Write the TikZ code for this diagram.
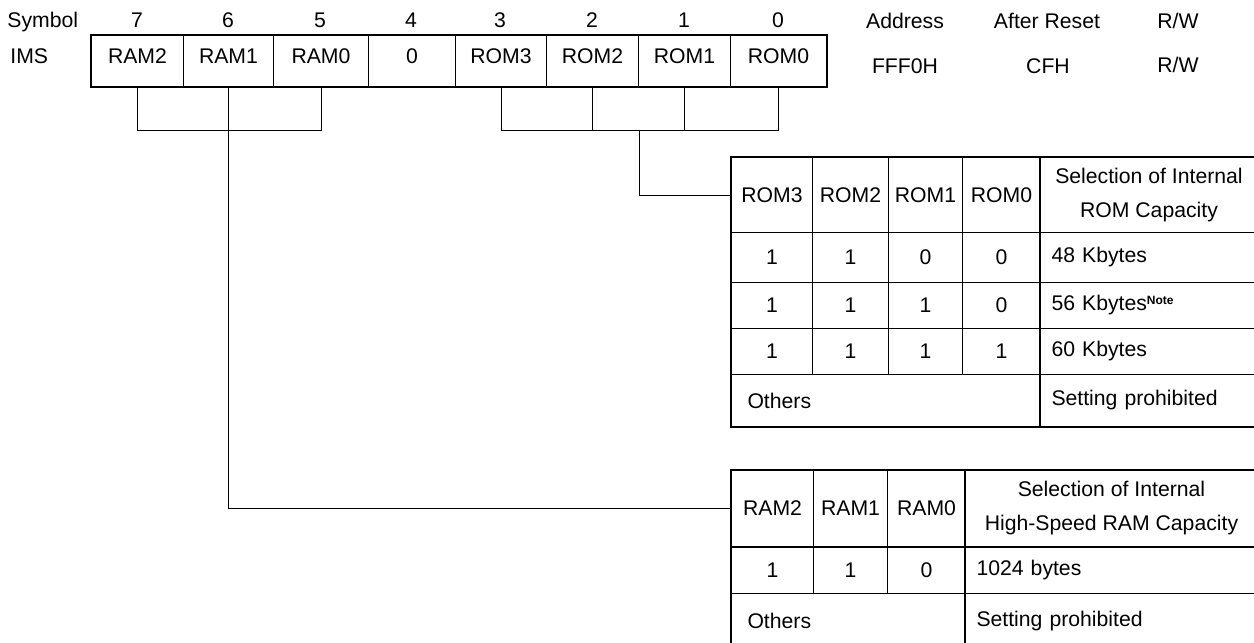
\documentclass[tikz,border=0pt]{standalone}
\usepackage{fontspec}
\setmainfont{Liberation Sans}
\usepackage{tikz}
\usetikzlibrary{calc}
\tikzset{
  every node/.style={font=\fontsize{10.6}{17}\selectfont},
  cell/.style 2 args={draw,line width=0.5pt,anchor=north west,inner sep=0pt,
    minimum width=#1*0.5pt,minimum height=#2*0.5pt},
  regcell/.style={cell={#1}{51},text depth=5pt},
  desc/.style={align=left,text width=#1,inner xsep=5.5pt},
  hdr/.style={anchor=base,inner sep=0pt},
  thickline/.style={line width=1.1pt},
  conn/.style={line width=0.5pt},
}

\begin{document}
\begin{tikzpicture}[x=0.5pt,y=-0.5pt]
        \useasboundingbox (0,0) rectangle (1254,643);
        \node[hdr,anchor=base west] (symbol) at (7,27) {Symbol};
        \node[hdr,anchor=base west] (ims) at (10,63) {IMS};
        \node[hdr] (n7) at (137,27) {7};
        \node[hdr] (n6) at (228,27) {6};
        \node[hdr] (n5) at (320,27) {5};
        \node[hdr] (n4) at (411,27) {4};
        \node[hdr] (n3) at (500,27) {3};
        \node[hdr] (n2) at (592,27) {2};
        \node[hdr] (n1) at (684,27) {1};
        \node[hdr] (n0) at (778,27) {0};
        \node[hdr] (address) at (905,28) {Address};
        \node[hdr] (reset) at (1047,28) {After Reset};
        \node[hdr] (rw) at (1178,28) {R/W};
        \node[hdr] (addrval) at (905,73) {FFF0H};
        \node[hdr] (resetval) at (1048,73) {CFH};
        \node[hdr] (rwval) at (1178,72) {R/W};

        \node[regcell=92] (ram2) at (91,35) {RAM2};
        \node[regcell=90] (ram1) at (183,35) {RAM1};
        \node[regcell=95] (ram0) at (273,35) {RAM0};
        \node[regcell=87] (bit4) at (368,35) {0};
        \node[regcell=91] (rom3) at (455,35) {ROM3};
        \node[regcell=92] (rom2) at (546,35) {ROM2};
        \node[regcell=92] (rom1) at (638,35) {ROM1};
        \node[regcell=96] (rom0) at (730,35) {ROM0};
        \draw[thickline] (ram2.north west) rectangle (rom0.south east);

        \node[cell={81}{75}] (romh3) at (731,157) {ROM3};
        \node[cell={76}{75}] (romh2) at (812,157) {ROM2};
        \node[cell={74}{75}] (romh1) at (888,157) {ROM1};
        \node[cell={78}{75}] (romh0) at (962,157) {ROM0};
        \node[cell={217}{75},align=center] (romhd) at (1040,157) {Selection of Internal\\ROM Capacity};
        \node[cell={81}{50}] (roma3) at (731,232) {1};
        \node[cell={76}{50}] (roma2) at (812,232) {1};
        \node[cell={74}{50}] (roma1) at (888,232) {0};
        \node[cell={78}{50}] (roma0) at (962,232) {0};
        \node[cell={217}{50},desc=97.5pt] (romad) at (1040,232) {48 Kbytes};
        \node[cell={81}{46}] (romb3) at (731,282) {1};
        \node[cell={76}{46}] (romb2) at (812,282) {1};
        \node[cell={74}{46}] (romb1) at (888,282) {1};
        \node[cell={78}{46}] (romb0) at (962,282) {0};
        \node[cell={217}{46},desc=97.5pt] (rombd) at (1040,282) {56 Kbytes\raisebox{3.3pt}{\fontsize{6}{7}\selectfont\bfseries Note}};
        \node[cell={81}{46}] (romc3) at (731,328) {1};
        \node[cell={76}{46}] (romc2) at (812,328) {1};
        \node[cell={74}{46}] (romc1) at (888,328) {1};
        \node[cell={78}{46}] (romc0) at (962,328) {1};
        \node[cell={217}{46},desc=97.5pt] (romcd) at (1040,328) {60 Kbytes};
        \node[cell={309}{52},desc=138.5pt,inner xsep=8pt] (romx) at (731,374) {Others};
        \node[cell={217}{52},desc=97.5pt] (romxd) at (1040,374) {Setting prohibited};
        \draw[thickline] (romh3.north west) rectangle (romxd.south east);
        \draw[thickline] (romhd.north west) -- (romxd.south west);

        \node[cell={82}{76}] (ramh2) at (731,470) {RAM2};
        \node[cell={74}{76}] (ramh1) at (813,470) {RAM1};
        \node[cell={78}{76}] (ramh0) at (887,470) {RAM0};
        \node[cell={292}{76},align=center] (ramhd) at (965,470) {Selection of Internal\\High-Speed RAM Capacity};
        \node[cell={82}{47}] (rama2) at (731,546) {1};
        \node[cell={74}{47}] (rama1) at (813,546) {1};
        \node[cell={78}{47}] (rama0) at (887,546) {0};
        \node[cell={292}{47},desc=135pt] (ramad) at (965,546) {1024 bytes};
        \node[cell={234}{55},desc=101pt,inner xsep=8pt] (ramx) at (731,593) {Others};
        \node[cell={292}{55},desc=135pt] (ramxd) at (965,593) {Setting prohibited};
        \draw[thickline] (ramh2.north west) rectangle (ramxd.south east);
        \draw[thickline] (ramhd.north west) -- (ramxd.south west);
        \draw[line width=0.9pt] (ramh2.south west) -- (ramhd.south east);

        \draw[conn] (ram2.south) -- ++(0,43) -| (ram0.south);
        \draw[conn] (ram1.south) |- (ramh2.west);
        \draw[conn] (rom3.south) -- ++(0,43) coordinate (rombar) -| (rom0.south);
        \draw[conn] (rom2.south) -- (rom2.south |- rombar);
        \draw[conn] (rom1.south) -- (rom1.south |- rombar);
        \draw[conn] (rom2.south east |- rombar) |- (romh3.west);
\end{tikzpicture}
\end{document}
